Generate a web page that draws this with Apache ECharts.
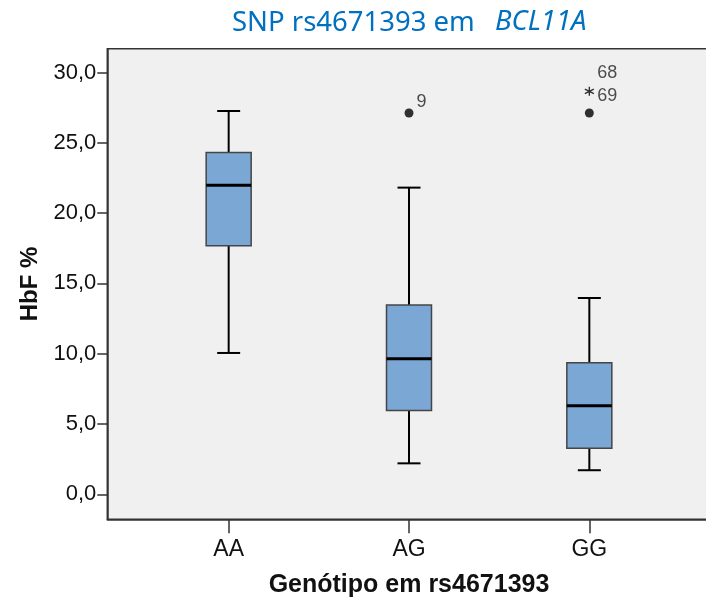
<!DOCTYPE html>
<html>
<head>
<meta charset="utf-8">
<script src="https://cdn.jsdelivr.net/npm/echarts@6/dist/echarts.min.js"></script>
<style>html,body{margin:0;padding:0;background:#fff}#main{width:706px;height:600px}</style>
</head>
<body>
<div id="main"></div>
<script>
var genotipos = ['AA', 'AG', 'GG'];
// [min, Q1, mediana, Q3, max]
var boxAA = [10.05, 17.68, 21.98, 24.30, 27.26];
var boxAG = [2.20, 5.95, 9.64, 13.46, 21.81];
var boxGG = [1.71, 3.27, 6.30, 9.36, 13.96];
// outliers (circulo) e extremos (asterisco): [posicao, valor, rotulo]
var outliers = [[2, 27.12, '9'], [3, 27.12, '']];
var extremos = [[3, 28.66, '68\n69']];
var yTicks = [0, 5, 10, 15, 20, 25, 30];
var xTicks = [1, 2, 3];

var myChart = echarts.init(document.getElementById('main'));

var boxData = [
  [1].concat(boxAA),
  [2].concat(boxAG),
  [3].concat(boxGG)
];

function renderBox(params, api) {
  var x = api.value(0);
  var p = [];
  for (var i = 1; i <= 5; i++) p.push(api.coord([x, api.value(i)]));
  var cx = p[0][0];
  var bw = 45, cw = 23;
  var whisker = {stroke: '#000', lineWidth: 2};
  return {
    type: 'group',
    children: [
      {type: 'line', shape: {x1: cx, y1: p[0][1], x2: cx, y2: p[1][1]}, style: whisker},
      {type: 'line', shape: {x1: cx, y1: p[3][1], x2: cx, y2: p[4][1]}, style: whisker},
      {type: 'line', shape: {x1: cx - cw / 2, y1: p[0][1], x2: cx + cw / 2, y2: p[0][1]}, style: whisker},
      {type: 'line', shape: {x1: cx - cw / 2, y1: p[4][1], x2: cx + cw / 2, y2: p[4][1]}, style: whisker},
      {type: 'rect', shape: {x: cx - bw / 2, y: p[3][1], width: bw, height: p[1][1] - p[3][1]},
        style: {fill: '#7BA7D5', stroke: '#454545', lineWidth: 1.5}},
      {type: 'line', shape: {x1: cx - bw / 2, y1: p[2][1], x2: cx + bw / 2, y2: p[2][1]},
        style: {stroke: '#000', lineWidth: 3}}
    ]
  };
}

var option = {
  animation: false,
  title: [
    {
      text: 'SNP rs4671393 em',
      left: 227,
      top: 4,
      textStyle: {fontFamily: 'Noto Sans', fontSize: 27.5, fontWeight: 'normal', color: '#0070C0'}
    },
    {
      text: 'BCL11A',
      left: 490,
      top: 4,
      textStyle: {fontFamily: 'Noto Sans', fontSize: 27.5, fontWeight: 'normal', fontStyle: 'italic', color: '#0070C0'}
    }
  ],
  grid: {
    left: 107.3,
    top: 48.7,
    width: 603.4,
    height: 470.6,
    outerBoundsMode: 'none',
    show: true,
    backgroundColor: '#F0F0F0',
    borderColor: '#333',
    borderWidth: 1.5
  },
  xAxis: {
    type: 'value',
    min: 0.327,
    max: 3.673,
    name: 'Genótipo em rs4671393',
    nameLocation: 'middle',
    nameGap: 53,
    nameTextStyle: {
      fontFamily: 'Liberation Sans',
      fontSize: 25,
      fontWeight: 'bold',
      color: '#111'
    },
    splitLine: {show: false},
    axisLine: {show: true, onZero: false, lineStyle: {color: '#333', width: 1.5}},
    axisTick: {show: true, customValues: xTicks, length: 14, lineStyle: {color: '#333', width: 1.5}},
    axisLabel: {
      customValues: xTicks,
      margin: 19,
      fontFamily: 'Liberation Sans',
      fontSize: 23,
      color: '#111',
      formatter: function (v) { return genotipos[Math.round(v) - 1]; }
    }
  },
  yAxis: {
    type: 'value',
    min: -1.78,
    max: 31.69,
    name: 'HbF %',
    nameLocation: 'middle',
    nameGap: 63,
    nameTextStyle: {
      fontFamily: 'Liberation Sans',
      fontSize: 24,
      fontWeight: 'bold',
      color: '#111'
    },
    splitLine: {show: false},
    axisLine: {show: true, onZero: false, lineStyle: {color: '#333', width: 1.5}},
    axisTick: {show: true, customValues: yTicks, length: 10, lineStyle: {color: '#333', width: 1.5}},
    axisLabel: {
      customValues: yTicks,
      margin: 11,
      fontFamily: 'Liberation Sans',
      fontSize: 22,
      color: '#111',
      formatter: function (v) { return v.toFixed(1).replace('.', ','); }
    }
  },
  series: [
    {
      type: 'custom',
      renderItem: renderBox,
      encode: {x: 0, y: [1, 2, 3, 4, 5]},
      data: boxData,
      z: 2
    },
    {
      type: 'scatter',
      symbol: 'circle',
      symbolSize: 9,
      itemStyle: {color: '#000'},
      label: {
        show: true,
        position: 'right',
        distance: 3,
        offset: [0, -11],
        fontFamily: 'Liberation Sans',
        fontSize: 18,
        color: '#222',
        formatter: function (p) { return p.data[2]; }
      },
      data: outliers,
      z: 3
    },
    {
      type: 'scatter',
      symbol: 'path://M5,0 L5,10 M0.7,2.5 L9.3,7.5 M0.7,7.5 L9.3,2.5',
      symbolSize: 9,
      itemStyle: {color: 'none', borderColor: '#000', borderWidth: 1.4},
      label: {
        show: true,
        position: 'right',
        distance: 1,
        offset: [0, -7],
        lineHeight: 23.5,
        fontFamily: 'Liberation Sans',
        fontSize: 18,
        color: '#222',
        formatter: function (p) { return p.data[2]; }
      },
      data: extremos,
      z: 3
    }
  ]
};

myChart.setOption(option);
</script>
</body>
</html>
